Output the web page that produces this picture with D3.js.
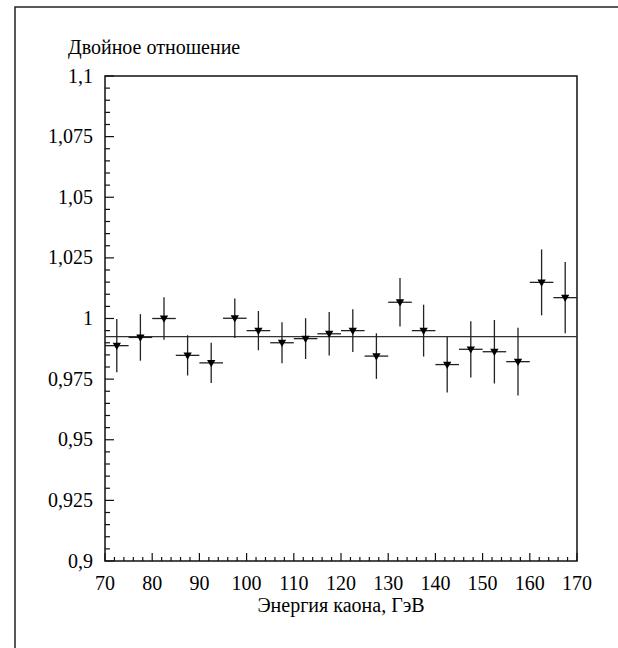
<!DOCTYPE html>
<html><head><meta charset="utf-8"><script src="https://cdn.jsdelivr.net/npm/d3@7"></script></head>
<body style="margin:0">
<script>
// ---- data ----
const energy = [72.5, 77.5, 82.5, 87.5, 92.5, 97.5, 102.5, 107.5, 112.5, 117.5,
                122.5, 127.5, 132.5, 137.5, 142.5, 147.5, 152.5, 157.5, 162.5, 167.5];
const ratio  = [0.9888, 0.9922, 1.0000, 0.9848, 0.9817, 1.0001, 0.9950, 0.9900, 0.9917, 0.9937,
                0.9950, 0.9845, 1.0067, 0.9950, 0.9810, 0.9873, 0.9863, 0.9822, 1.0149, 1.0086];
const ratioErr = [0.0110, 0.0096, 0.0088, 0.0083, 0.0083, 0.0081, 0.0081, 0.0085, 0.0084, 0.0090,
                  0.0088, 0.0094, 0.0100, 0.0107, 0.0115, 0.0116, 0.0131, 0.0140, 0.0136, 0.0147];
const binHalfWidth = 2.5;
const fitLevel = 0.9925;
const xTicks = [70, 80, 90, 100, 110, 120, 130, 140, 150, 160, 170];
const yTicks = [0.9, 0.925, 0.95, 0.975, 1, 1.025, 1.05, 1.075, 1.1];
const yTickLabels = ["0,9", "0,925", "0,95", "0,975", "1", "1,025", "1,05", "1,075", "1,1"];
const yTitle = "Двойное отношение";
const xTitle = "Энергия каона, ГэВ";

// ---- layout ----
const W = 618, H = 648;
const plot = { left: 105, top: 76, right: 577, bottom: 561 };

const svg = d3.select("body").append("svg").attr("width", W).attr("height", H)
  .attr("font-family", "Times New Roman");

const x = d3.scaleLinear().domain([70, 170]).range([plot.left, plot.right]);
const y = d3.scaleLinear().domain([0.9, 1.1]).range([plot.bottom, plot.top]);

// texts
const labels = [];
xTicks.forEach(t => labels.push({ s: String(t), x: x(t), y: 590, a: "middle" }));
yTicks.forEach((t, i) => labels.push({ s: yTickLabels[i], x: 93, y: y(t) + 6.5, a: "end" }));
labels.push({ s: yTitle, x: 68, y: 54, a: "start" });
labels.push({ s: xTitle, x: (plot.left + plot.right) / 2, y: 612, a: "middle" });

svg.selectAll("text").data(labels).join("text")
  .attr("x", d => d.x).attr("y", d => d.y)
  .style("font", '20px "Times New Roman", Tinos, "Liberation Serif", serif')
  .attr("text-anchor", d => d.a)
  .text(d => d.s);

// outer frame (left + top)
svg.append("path")
  .attr("d", `M15,${H} L15,7 L${W},7`)
  .attr("fill", "none").attr("stroke", "#222").attr("stroke-width", 1.5);

// ticks
const xMinor = d3.range(70, 170.001, 2);
const yMinor = d3.range(0, 41).map(i => 0.9 + i * 0.005);
const axG = svg.append("g").attr("stroke", "#111").attr("stroke-width", 1.2);
axG.selectAll("line.xm").data(xMinor).join("line")
  .attr("x1", d => x(d)).attr("x2", d => x(d))
  .attr("y1", plot.bottom).attr("y2", (d, i) => plot.bottom - (i % 5 === 0 ? 8 : 4));
axG.selectAll("line.ym").data(yMinor).join("line")
  .attr("y1", d => y(d)).attr("y2", d => y(d))
  .attr("x1", plot.left).attr("x2", (d, i) => plot.left + (i % 5 === 0 ? 9 : 5));

// plot frame
svg.append("rect")
  .attr("x", plot.left).attr("y", plot.top)
  .attr("width", plot.right - plot.left).attr("height", plot.bottom - plot.top)
  .attr("fill", "none").attr("stroke", "#111").attr("stroke-width", 1.5);

// fit line
svg.append("line")
  .attr("x1", plot.left).attr("x2", plot.right)
  .attr("y1", y(fitLevel)).attr("y2", y(fitLevel))
  .attr("stroke", "#333").attr("stroke-width", 1.3);

// points
const pts = energy.map((e, i) => ({ e, v: ratio[i], err: ratioErr[i] }));
const g = svg.append("g");
g.selectAll("line.hb").data(pts).join("line")
  .attr("x1", d => x(d.e - binHalfWidth)).attr("x2", d => x(d.e + binHalfWidth))
  .attr("y1", d => y(d.v)).attr("y2", d => y(d.v))
  .attr("stroke", "#222").attr("stroke-width", 1.3);
g.selectAll("line.vb").data(pts).join("line")
  .attr("x1", d => x(d.e)).attr("x2", d => x(d.e))
  .attr("y1", d => y(d.v - d.err)).attr("y2", d => y(d.v + d.err))
  .attr("stroke", "#222").attr("stroke-width", 1.3);

const tri = d3.symbol().type(d3.symbolTriangle).size(30);
g.selectAll("path.m").data(pts).join("path")
  .attr("d", tri)
  .attr("transform", d => `translate(${x(d.e)},${y(d.v) - 0.5}) rotate(180)`)
  .attr("fill", "#000");
</script></body></html>
